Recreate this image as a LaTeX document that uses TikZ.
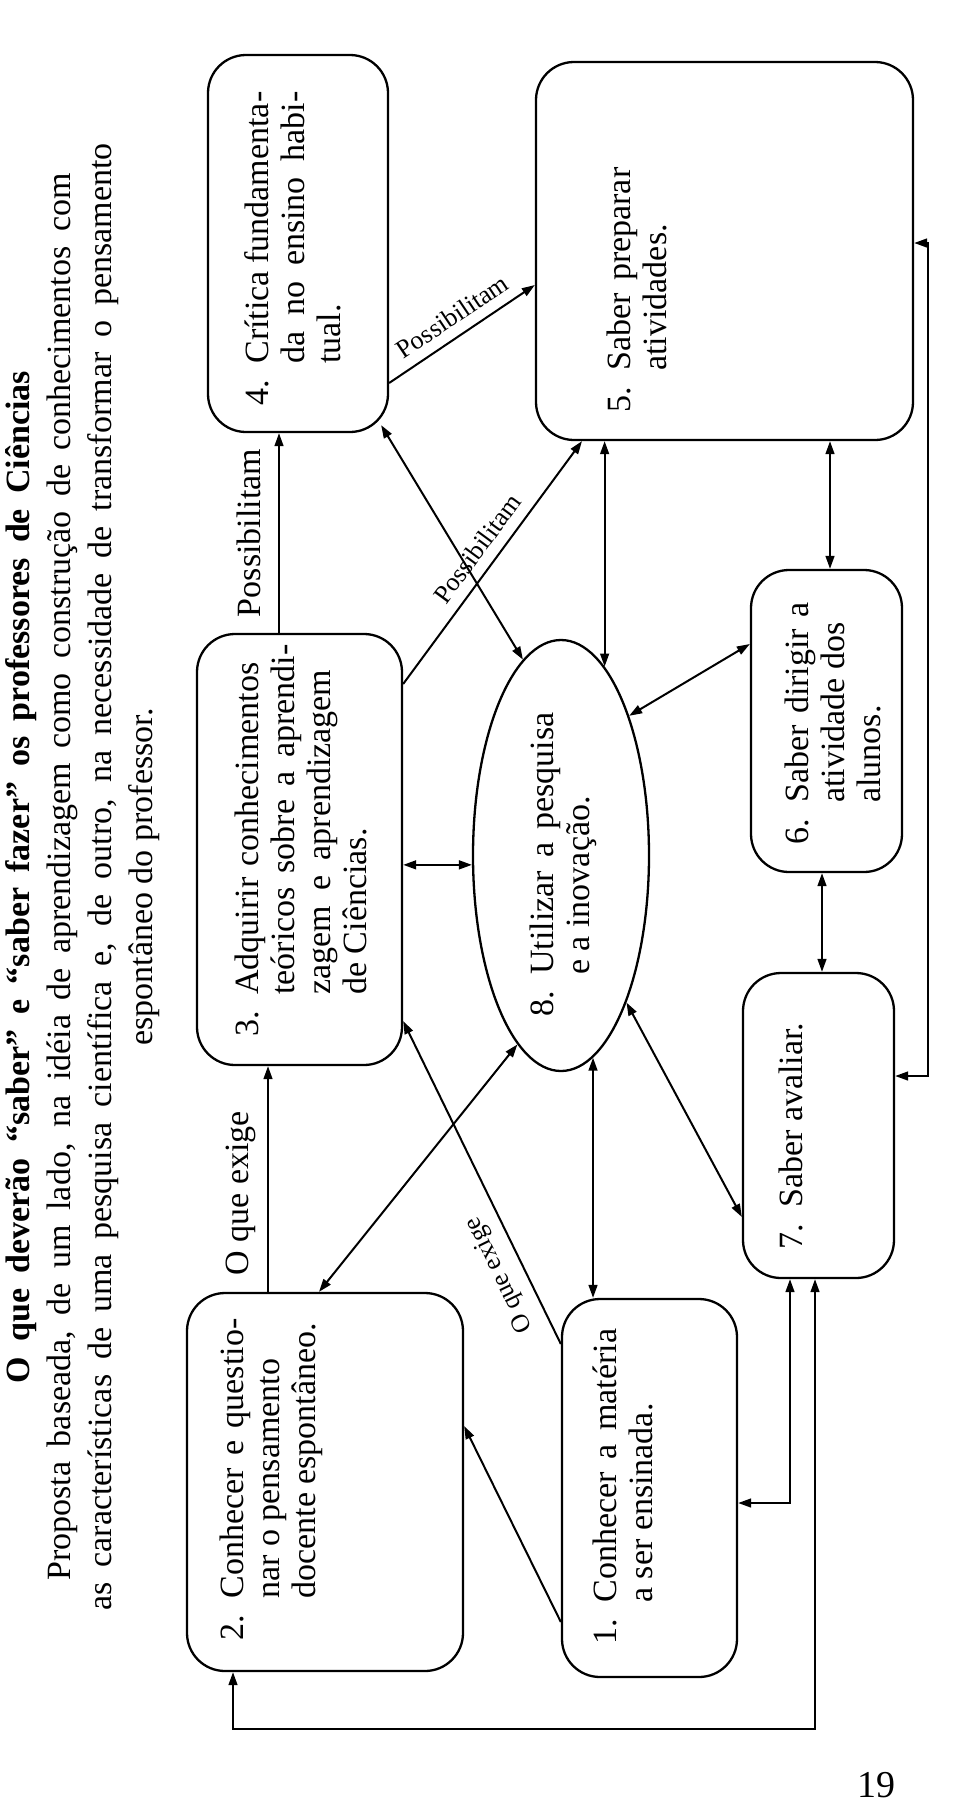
\documentclass[tikz,border=0pt]{standalone}
\usepackage{fontspec}
\setmainfont{Liberation Serif}
\usetikzlibrary{arrows.meta,shapes.geometric}
\newcommand\nm[1]{\makebox[21pt][l]{#1}}
\newcommand\ind{\hspace*{21pt}}
\newcommand\jl[2]{\makebox[#1][s]{#2}}
\begin{document}
\begin{tikzpicture}[x=0.5pt,y=-0.5pt,
  box/.style={draw, line width=1.15pt, rounded corners=19pt, inner sep=0pt},
  ell/.style={draw, ellipse, line width=1.15pt, inner sep=0pt},
  con/.style={line width=1pt},
  a1/.style={con, -{Triangle[length=6.5pt,width=4.4pt]}},
  a2/.style={con, {Triangle[length=6.5pt,width=4.4pt]}-{Triangle[length=6.5pt,width=4.4pt]}},
  txt/.style={rotate=90, anchor=north west, inner sep=0pt, align=left, font=\fontsize{17}{18}\selectfont},
  lbl/.style={font=\fontsize{17}{18}\selectfont, inner sep=0pt},
  slbl/.style={font=\fontsize{13}{15}\selectfont, inner sep=0pt}]
\useasboundingbox (0,0) rectangle (956,1810);
\fill[white] (0,0) rectangle (956,1810);

% title
\node[rotate=90, anchor=north, inner sep=0pt, align=center, font=\fontsize{17}{20.5}\selectfont] (title) at (0,877)
 {\strut\textbf{\jl{506pt}{O que deverão “saber” e “saber fazer” os professores de Ciências}}\\
  \strut\jl{703.5pt}{Proposta baseada, de um lado, na idéia de aprendizagem como construção de conhecimentos com}\\
  \strut\jl{733.5pt}{as características de uma pesquisa científica e, de outro, na necessidade de transformar o pensamento}\\
  \strut espontâneo do professor.};

% boxes
\node[box, minimum width=90pt, minimum height=188.5pt] (b4) at (298,243.5) {};
\node[box, minimum width=188.5pt, minimum height=189pt] (b5) at (724.5,251) {};
\node[box, minimum width=102.5pt, minimum height=215.5pt] (b3) at (299.5,849.5) {};
\node[ell, minimum width=88pt, minimum height=215.5pt] (e8) at (561,855.5) {};
\node[box, minimum width=75.5pt, minimum height=151pt] (b6) at (826.5,721) {};
\node[box, minimum width=75.5pt, minimum height=152.5pt] (b7) at (818.5,1125.5) {};
\node[box, minimum width=87.5pt, minimum height=189pt] (b1) at (649.5,1488) {};
\node[box, minimum width=138pt, minimum height=189pt] (b2) at (325,1482) {};

% texts
\node[txt] (t4) at (243,406) {\strut\nm{4.}\jl{136pt}{Crítica fundamenta-}\\\strut\ind\jl{136pt}{da no ensino habi-}\\\strut\ind tual.};
\node[txt] (t5) at (605,413) {\strut\nm{5.}\jl{101.5pt}{Saber preparar}\\\strut\ind atividades.};
\node[txt] (t3) at (233,1037) {\strut\nm{3.}\jl{166pt}{Adquirir conhecimentos}\\\strut\ind\jl{175pt}{teóricos sobre a aprendi-}\\\strut\ind\jl{162.5pt}{zagem e aprendizagem}\\\strut\ind de Ciências.};
\node[txt] (t8) at (528,1017) {\strut\nm{8.}\jl{131pt}{Utilizar a pesquisa}\\\strut\ind e a inovação.};
\node[txt] (t6) at (783,845) {\strut\nm{6.}\jl{100pt}{Saber dirigir a}\\\strut\ind atividade dos\\\strut\ind alunos.};
\node[txt] (t7) at (777,1250) {\strut\nm{7.}Saber avaliar.};
\node[txt] (t2) at (218,1641) {\strut\nm{2.}\jl{140pt}{Conhecer e questio-}\\\strut\ind nar o pensamento\\\strut\ind docente espontâneo.};
\node[txt] (t1) at (591,1645) {\strut\nm{1.}\jl{137pt}{Conhecer a matéria}\\\strut\ind a ser ensinada.};

% connectors
\draw[a1] (b3.north -| 279,0) -- node[lbl, sloped, above=8.5pt, pos=0.5] (l34) {Possibilitam} (b4.south -| 279,0);
\draw[a1] (b4.east |- 0,383) -- node[slbl, sloped, above=5pt, pos=0.51] (l45) {Possibilitam} (b5.west |- 0,285);
\draw[a1] (b3.east |- 0,684) -- node[slbl, sloped, above=5.3pt, pos=0.507] (l35) {Possibilitam} (b5.south -| 582,0);
\draw[a2] ([shift={(-8,-8)}]b4.south east) -- (e8.101);
\draw[a2] (b5.south -| e8.77) -- (e8.77);
\draw[a2] (b3.east |- e8.186) -- (e8.186);
\draw[a2] (b6.west |- 0,644) -- (e8.64);
\draw[a2] (e8.294) -- (b7.west |- 0,1217);
\draw[a2] (e8.279) -- (b1.north -| e8.279);
\draw[a2] (e8.257) -- (b2.north -| 319,0);
\draw[a2] (b5.south -| 830,0) -- (b6.north -| 830,0);
\draw[a2] (b6.south -| 822,0) -- (b7.north -| 822,0);
\draw[a1] (b1.west |- 0,1344) -- node[slbl, sloped, allow upside down, above=6pt, pos=0.248] (l13) {O que exige} (b3.east |- 0,1021);
\draw[a1] (b1.west |- 0,1622) -- (b2.east |- 0,1426);
\draw[a1] (b2.north -| 268,0) -- node[lbl, sloped, above=5.5pt, pos=0.436] (l23) {O que exige} (b3.south -| 268,0);
\draw[a2] (b7.south -| 790,0) |- (b1.east |- 0,1503);
\coordinate (lb) at (233,1729);
\draw[a2] (b7.south -| 815,0) |- (lb) -- (b2.south -| lb);
\coordinate (r1) at (928,243);
\coordinate (r2) at (928,1076);
\draw[a2] (b5.east |- r1) -- (r1) -- (r2) -- (b7.east |- r2);

% page number
\node[anchor=north, inner sep=0pt, font=\fontsize{19}{22}\selectfont] (pg) at (876,1772) {19};
\end{tikzpicture}
\end{document}
